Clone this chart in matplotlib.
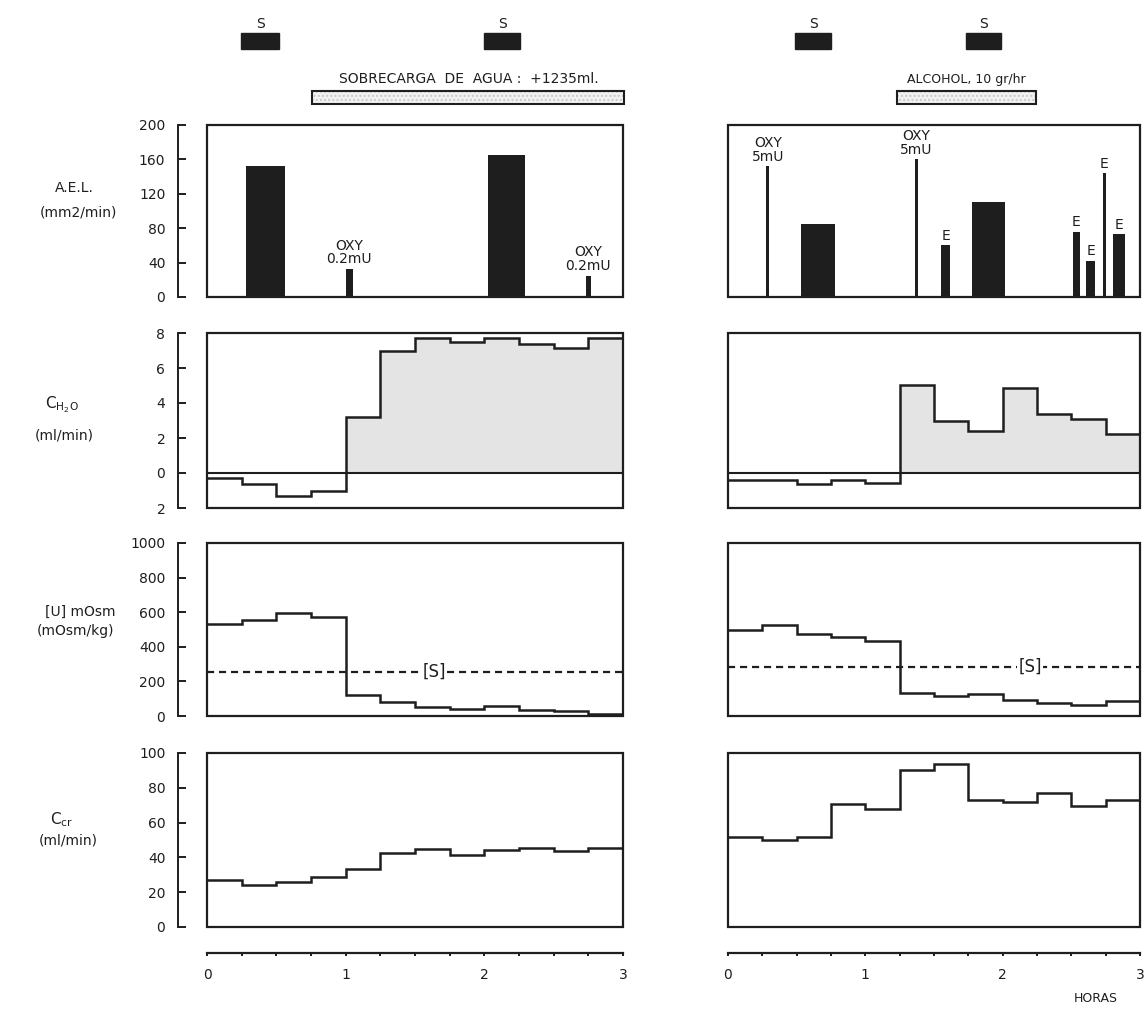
import numpy as np
import matplotlib
matplotlib.use('Agg')
import matplotlib.pyplot as plt
from matplotlib.patches import Rectangle
from matplotlib import transforms

plt.rcParams['font.family'] = ['DejaVu Sans']

# ---------------- data ----------------
# 15-minute collection periods over 3 hours
period_edges = np.arange(0, 3.01, 0.25)

# Left column: water load
ael_left_start = [0.28, 1.00, 2.03, 2.73]
ael_left_end = [0.56, 1.05, 2.29, 2.77]
ael_left_value = [152, 33, 165, 25]
ael_left_label = ['', 'OXY\n0.2mU', '', 'OXY\n0.2mU']

ch2o_left = [-0.3, -0.6, -1.3, -1.0, 3.2, 7.0, 7.7, 7.5, 7.7, 7.4, 7.15, 7.7]
uosm_left = [530, 555, 598, 574, 124, 79, 52, 43, 56, 33, 27, 14]
ccr_left = [27, 24, 26, 28.5, 33.5, 42.5, 45, 41.5, 44, 45.5, 43.5, 45.5]
sosm_left = 255

s_left = [(0.245, 0.52), (2.0, 2.26)]
infusion_left = (0.76, 3.01)
infusion_left_text = 'SOBRECARGA  DE  AGUA :  +1235ml.'

# Right column: alcohol
ael_right_start = [0.28, 0.53, 1.36, 1.55, 1.775, 2.51, 2.61, 2.73, 2.80]
ael_right_end = [0.30, 0.78, 1.38, 1.62, 2.02, 2.56, 2.67, 2.75, 2.89]
ael_right_value = [152, 85, 160, 60, 110, 76, 42, 144, 73]
ael_right_label = ['OXY\n5mU', '', 'OXY\n5mU', 'E', '', 'E', 'E', 'E', 'E']

ch2o_right = [-0.38, -0.38, -0.65, -0.42, -0.57, 5.05, 3.0, 2.4, 4.85, 3.4, 3.1, 2.25]
uosm_right = [497, 524, 474, 455, 435, 135, 114, 130, 91, 75, 62, 87]
ccr_right = [51.7, 49.8, 51.7, 70.5, 68, 90.4, 93.9, 73.2, 71.6, 77, 69.7, 73.2]
sosm_right = 284

s_right = [(0.49, 0.75), (1.73, 1.99)]
infusion_right = (1.23, 2.24)
infusion_right_text = 'ALCOHOL, 10 gr/hr'

hour_ticks = [0, 1, 2, 3]
ael_ticks = [0, 40, 80, 120, 160, 200]
ch2o_ticks = [-2, 0, 2, 4, 6, 8]
ch2o_ticklabels = ['2', '0', '2', '4', '6', '8']
uosm_ticks = [0, 200, 400, 600, 800, 1000]
ccr_ticks = [0, 20, 40, 60, 80, 100]

# ---------------- layout ----------------
INK = '#1e1e1e'
W, H = 1144, 1010
fig = plt.figure(figsize=(W / 100, H / 100), dpi=100)
fig.patch.set_facecolor('white')


def axrect(x0, x1, y0, y1):
    return [x0 / W, 1 - y1 / H, (x1 - x0) / W, (y1 - y0) / H]


rows = [(125, 297), (333, 508), (543, 716), (753, 927)]
cols = [(207, 623), (728, 1140)]
axes = [[fig.add_axes(axrect(c[0], c[1], r[0], r[1])) for c in cols] for r in rows]

ylims = [(0, 200), (-2, 8), (0, 1000), (0, 100)]
yticks = [ael_ticks, ch2o_ticks, uosm_ticks, ccr_ticks]
yticklabels = [[str(t) for t in ael_ticks], ch2o_ticklabels,
               [str(t) for t in uosm_ticks], [str(t) for t in ccr_ticks]]

for i, row in enumerate(axes):
    for j, ax in enumerate(row):
        ax.set_facecolor('none')
        ax.set_xlim(0, 3)
        ax.set_ylim(*ylims[i])
        for s in ax.spines.values():
            s.set_visible(False)
        ax.add_patch(Rectangle((0, 0), 1, 1, transform=ax.transAxes, fill=False,
                               lw=1.6, ec=INK, clip_on=False, zorder=6))
        if j == 0:
            sp = ax.spines['left']
            sp.set_visible(True)
            sp.set_position(('outward', 21))
            sp.set_linewidth(1.4)
            sp.set_color(INK)
            ax.set_yticks(yticks[i])
            ax.set_yticklabels(yticklabels[i])
            ax.tick_params(axis='y', direction='in', length=6, width=1.4,
                           labelsize=10, pad=9, colors=INK)
        else:
            ax.set_yticks([])
        if i == 3:
            sp = ax.spines['bottom']
            sp.set_visible(True)
            sp.set_position(('outward', 19))
            sp.set_linewidth(1.6)
            sp.set_color(INK)
            ax.set_xticks(hour_ticks)
            ax.set_xticks(period_edges, minor=True)
            ax.tick_params(axis='x', which='both', direction='out', length=2.5,
                           width=1.4, labelsize=10, pad=8, colors=INK)
        else:
            ax.set_xticks([])

# ---------------- top row: A.E.L. ----------------
for ax, st, en, val, lab in [
        (axes[0][0], ael_left_start, ael_left_end, ael_left_value, ael_left_label),
        (axes[0][1], ael_right_start, ael_right_end, ael_right_value, ael_right_label)]:
    st = np.array(st)
    en = np.array(en)
    ax.bar(st, val, width=en - st, align='edge', color=INK, lw=0, zorder=3)
    for s0, e0, v, t in zip(st, en, val, lab):
        if t:
            ax.text((s0 + e0) / 2, v + 3, t, ha='center', va='bottom', fontsize=10,
                    color=INK, linespacing=0.95, zorder=7)

# header elements above top row
for ax, sper, inf, txt, tfs in [
        (axes[0][0], s_left, infusion_left, infusion_left_text, 10),
        (axes[0][1], s_right, infusion_right, infusion_right_text, 9)]:
    tr = transforms.blended_transform_factory(ax.transData, ax.transAxes)
    for a, b in sper:
        ax.add_patch(Rectangle((a, 1.44), b - a, 0.095, transform=tr, color=INK,
                               clip_on=False))
        ax.text((a + b) / 2, 1.545, 'S', transform=tr, ha='center', va='bottom',
                fontsize=10, color=INK)
    a, b = inf
    ax.add_patch(Rectangle((a, 1.12), b - a, 0.075, transform=tr, facecolor='#f2f2f2',
                           edgecolor='#c9c9c9', hatch='....', lw=0, clip_on=False))
    ax.add_patch(Rectangle((a, 1.12), b - a, 0.075, transform=tr, fill=False,
                           edgecolor=INK, lw=1.5, clip_on=False))
    ax.text((a + b) / 2, 1.225, txt, transform=tr, ha='center', va='bottom',
            fontsize=tfs, color=INK)

# ---------------- C H2O ----------------
for ax, vals in [(axes[1][0], ch2o_left), (axes[1][1], ch2o_right)]:
    v = np.array(vals)
    ax.stairs(np.clip(v, 0, None), period_edges, baseline=0, fill=True,
              color='#e4e4e4', zorder=1)
    ax.axhline(0, color=INK, lw=1.5, zorder=2)
    ax.stairs(v, period_edges, baseline=None, color=INK, lw=1.8, zorder=3)

# ---------------- [U] mOsm ----------------
for ax, vals, sosm, sx in [(axes[2][0], uosm_left, sosm_left, 1.64),
                           (axes[2][1], uosm_right, sosm_right, 2.2)]:
    ax.axhline(sosm, color=INK, lw=1.6, ls=(0, (3.2, 2.2)), zorder=2)
    ax.text(sx, sosm, '[S]', ha='center', va='center', fontsize=12, color=INK,
            bbox=dict(facecolor='white', edgecolor='none', pad=1.0), zorder=4)
    ax.stairs(vals, period_edges, baseline=None, color=INK, lw=1.8, zorder=3)

# ---------------- C cr ----------------
for ax, vals in [(axes[3][0], ccr_left), (axes[3][1], ccr_right)]:
    ax.stairs(vals, period_edges, baseline=None, color=INK, lw=1.8, zorder=3)

# ---------------- row labels ----------------
def ftext(x, y, s, **kw):
    fig.text(x / W, 1 - y / H, s, ha='center', va='center', color=INK, **kw)


ftext(74, 188, 'A.E.L.', fontsize=10)
ftext(78, 212, '(mm2/min)', fontsize=10)
ftext(62, 405, r'$\mathregular{C_{H_2O}}$', fontsize=11)
ftext(64, 436, '(ml/min)', fontsize=10)
ftext(80, 612, '[U] mOsm', fontsize=10)
ftext(76, 631, '(mOsm/kg)', fontsize=10)
ftext(62, 820, r'$\mathregular{C_{cr}}$', fontsize=11)
ftext(68, 840, '(ml/min)', fontsize=10)
ftext(1096, 998, 'HORAS', fontsize=9)

fig.savefig('out.png', dpi=100, facecolor='white')
